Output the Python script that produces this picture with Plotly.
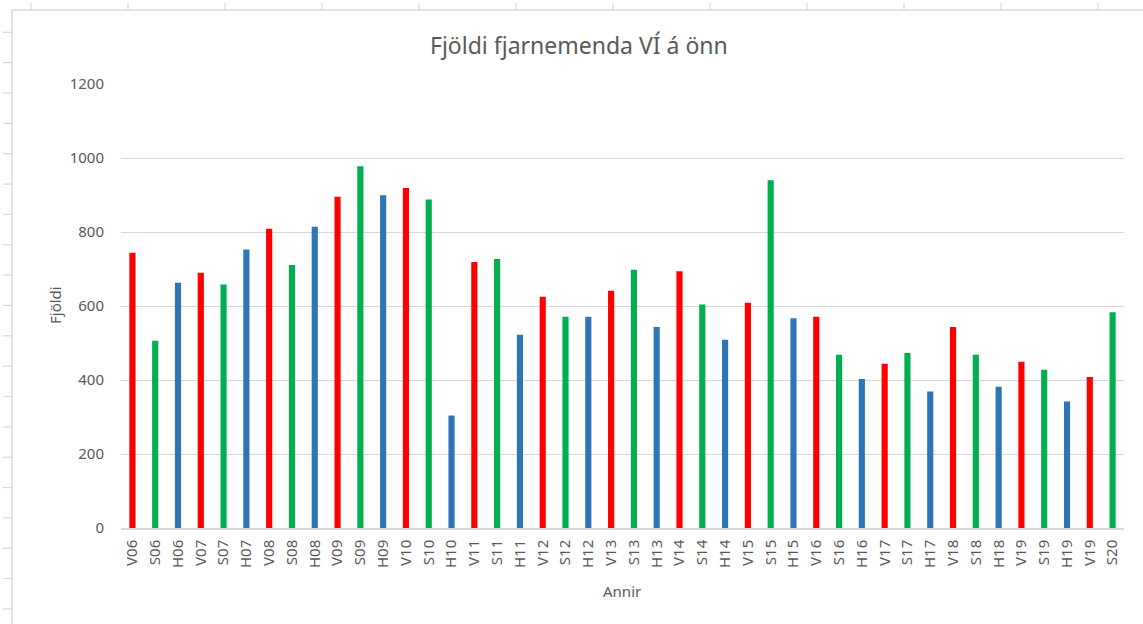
import plotly.graph_objects as go

labels = ["V06", "S06", "H06", "V07", "S07", "H07", "V08", "S08", "H08",
          "V09", "S09", "H09", "V10", "S10", "H10", "V11", "S11", "H11",
          "V12", "S12", "H12", "V13", "S13", "H13", "V14", "S14", "H14",
          "V15", "S15", "H15", "V16", "S16", "H16", "V17", "S17", "H17",
          "V18", "S18", "H18", "V19", "S19", "H19", "V19", "S20"]
values = [744, 506, 663, 690, 658, 753, 809, 711, 814,
          895, 978, 899, 919, 888, 304, 719, 727, 522,
          625, 571, 571, 641, 698, 543, 694, 604, 509,
          609, 940, 567, 571, 468, 403, 444, 473, 369,
          543, 468, 382, 449, 428, 342, 408, 583]
season_colors = {"V": "#FF0000", "S": "#00B050", "H": "#2E75B6"}
yticks = [0, 200, 400, 600, 800, 1000, 1200]

W, H = 1143, 624
L, R, T, B = 121, 19, 84, 96
pw, ph = W - L - R, H - T - B

def px(x):
    return (x - L) / pw

def py(y):
    return (H - B - y) / ph

FONT = "Noto Sans"
GRAY = "#595959"
LINE = "#D9D9D9"

xs = list(range(len(labels)))
colors = [season_colors[l[0]] for l in labels]

fig = go.Figure(go.Bar(x=xs, y=values, marker=dict(color=colors, line=dict(width=0)),
                       width=0.27, hoverinfo="y"))

shapes = []
shapes.append(dict(type="line", xref="paper", yref="paper", x0=px(12), x1=px(W), y0=py(10), y1=py(10),
                   line=dict(color=LINE, width=1.5)))
shapes.append(dict(type="line", xref="paper", yref="paper", x0=px(12), x1=px(12), y0=py(10), y1=py(H),
                   line=dict(color=LINE, width=1.5)))
for xm in [31, 128, 225, 322, 419, 516, 613, 710, 807, 904, 1001, 1098]:
    shapes.append(dict(type="line", xref="paper", yref="paper", x0=px(xm), x1=px(xm), y0=py(3), y1=py(10),
                       line=dict(color=LINE, width=1.2)))
ym = 32.3
while ym < H:
    shapes.append(dict(type="line", xref="paper", yref="paper", x0=px(3), x1=px(12), y0=py(ym), y1=py(ym),
                       line=dict(color=LINE, width=1.2)))
    ym += 30.35

fig.update_layout(
    width=W, height=H,
    margin=dict(l=L, r=R, t=T, b=B, autoexpand=False),
    paper_bgcolor="white", plot_bgcolor="white",
    showlegend=False,
    font=dict(family=FONT, color=GRAY, size=15),
    shapes=shapes,
    annotations=[
        dict(text="Fjöldi fjarnemenda VÍ á önn", xref="paper", yref="paper",
             x=px(579), y=py(45), showarrow=False, xanchor="center", yanchor="middle",
             font=dict(size=23, color=GRAY, family=FONT)),
        dict(text="Fjöldi", xref="paper", yref="paper", textangle=-90,
             x=px(55), y=py(305), showarrow=False, xanchor="center", yanchor="middle",
             font=dict(size=15, color=GRAY, family=FONT)),
        dict(text="Annir", xref="paper", yref="paper",
             x=px(622), y=py(591), showarrow=False, xanchor="center", yanchor="middle",
             font=dict(size=15, color=GRAY, family=FONT)),
    ],
    bargap=0.73,
    xaxis=dict(
        tickmode="array", tickvals=xs, ticktext=labels, tickangle=-90,
        range=[-0.5, len(labels) - 0.5],
        showgrid=False, zeroline=False, showline=True, linecolor=LINE, linewidth=1.5,
        ticks="", tickfont=dict(size=15, color=GRAY), ticklabelstandoff=4,
    ),
    yaxis=dict(
        range=[0, 1200], tickvals=yticks, showgrid=True, gridcolor=LINE, gridwidth=1.2,
        zeroline=False, showline=False, ticks="",
        tickfont=dict(size=15, color=GRAY), ticklabelstandoff=16,
    ),
)

fig.write_html("out.html", config={"displayModeBar": False},
               post_script="document.body.style.margin='0';document.body.style.padding='0';")
